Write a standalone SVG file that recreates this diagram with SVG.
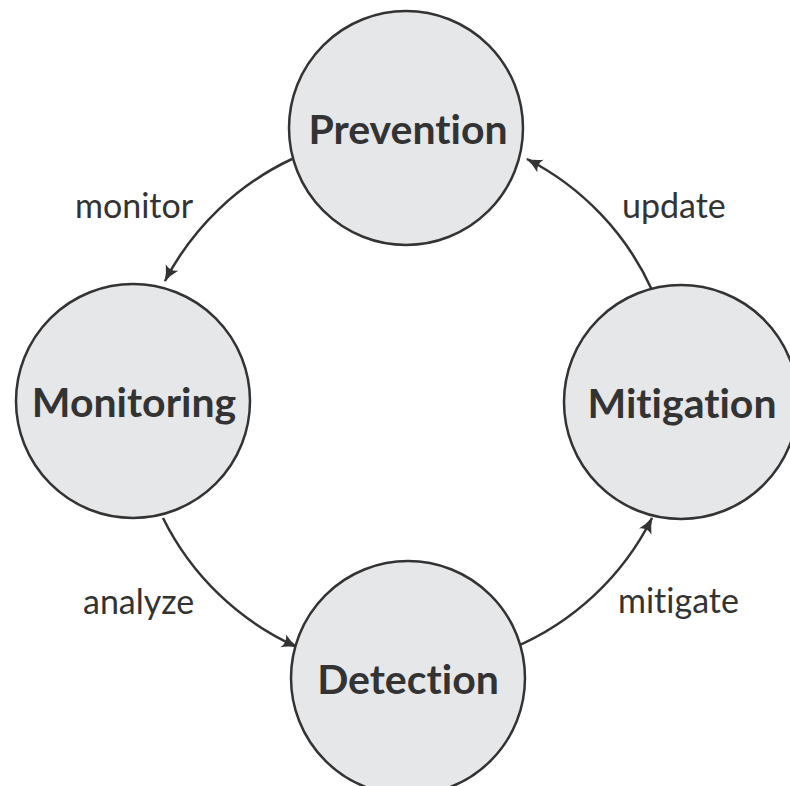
<svg xmlns="http://www.w3.org/2000/svg" width="790" height="786" viewBox="0 0 790 786">
<style>
text{font-variant-ligatures:none;font-feature-settings:"liga" 0,"clig" 0}
.node circle{fill:#e6e7e9;stroke:#333;stroke-width:2.5}
.node text{font-family:Lato,"Open Sans",sans-serif;font-weight:bold;font-size:41px;fill:#333;text-anchor:middle;dominant-baseline:central}
.edge path{fill:none;stroke:#333;stroke-width:2.5}
.lbl{font-family:Lato,"Open Sans",sans-serif;font-size:34px;fill:#333}
</style>
<defs>
<marker id="ah" viewBox="0 0 12 10" refX="11" refY="5" markerWidth="14" markerHeight="12" markerUnits="userSpaceOnUse" orient="auto" overflow="visible">
<path d="M-2,-1 Q4,3 12,5 Q4,7 -2,11 Q2,5 -2,-1 Z" fill="#333"/>
</marker>
</defs>
<rect width="790" height="786" fill="#fff"/>
<g id="edges" class="edge">
<path d="M292,159 A275,275 0 0 0 165,281" marker-end="url(#ah)"/>
<path d="M163,518 A275,275 0 0 0 297,647" marker-end="url(#ah)"/>
<path d="M513,648 A275,275 0 0 0 652,518" marker-end="url(#ah)"/>
<path d="M652,290 A275,275 0 0 0 527,159" marker-end="url(#ah)"/>
</g>
<g id="labels">
<text class="lbl" x="75" y="218">monitor</text>
<text class="lbl" x="83" y="614">analyze</text>
<text class="lbl" x="618" y="613">mitigate</text>
<text class="lbl" x="622" y="218">update</text>
</g>
<g id="prevention" class="node"><circle cx="406" cy="128" r="117"/><text x="408" y="128">Prevention</text></g>
<g id="monitoring" class="node"><circle cx="133" cy="401" r="117"/><text x="134" y="401">Monitoring</text></g>
<g id="mitigation" class="node"><circle cx="681" cy="402" r="117"/><text x="682" y="402">Mitigation</text></g>
<g id="detection" class="node"><circle cx="408" cy="678" r="117"/><text x="408" y="678">Detection</text></g>
</svg>
